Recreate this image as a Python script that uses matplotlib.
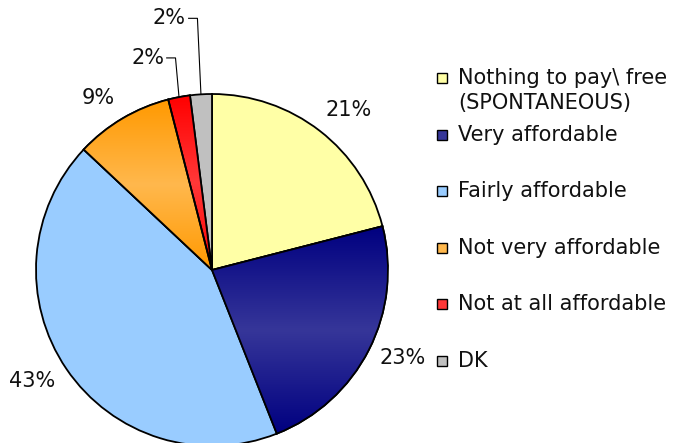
import numpy as np
import matplotlib
matplotlib.use("Agg")
import matplotlib.pyplot as plt
from matplotlib.colors import to_rgb
from matplotlib.patches import Rectangle, PathPatch

labels = ["Nothing to pay\\ free\n(SPONTANEOUS)", "Very affordable", "Fairly affordable",
          "Not very affordable", "Not at all affordable", "DK"]
values = [21, 23, 43, 9, 2, 2]
pct_text = ["21%", "23%", "43%", "9%", "2%", "2%"]

# edge colour / middle colour of the vertical gradient in each slice
edge_cols = ["#FFFFA6", "#000080", "#99CCFF", "#FF9900", "#FF0000", "#C0C0C0"]
mid_cols = ["#FFFFA6", "#363699", "#99CCFF", "#FFB84D", "#FF3838", "#C0C0C0"]

W, H = 681, 443
fig = plt.figure(figsize=(W / 100, H / 100), dpi=100)
R = 176
cx, cy = 212, 270
ax = fig.add_axes([(cx - R) / W, (H - cy - R) / H, 2 * R / W, 2 * R / H])

wedges, _ = ax.pie(values, colors=mid_cols, startangle=90, counterclock=False,
                   radius=1, wedgeprops=dict(edgecolor="black", linewidth=1.3))

# gradient fill clipped to each wedge
for w, c0, c1 in zip(wedges, edge_cols, mid_cols):
    if c0 == c1:
        continue
    path = w.get_patch_transform().transform_path(w.get_path())
    ext = path.get_extents()
    t = np.linspace(0, 1, 200)
    k = 1 - np.abs(2 * t - 1)
    a, b = np.array(to_rgb(c0)), np.array(to_rgb(c1))
    img = (a[None, :] * (1 - k[:, None]) + b[None, :] * k[:, None])[:, None, :]
    im = ax.imshow(img, extent=[ext.x0, ext.x1, ext.y0, ext.y1], origin="lower",
                   aspect="auto", zorder=w.get_zorder() + 0.1)
    im.set_clip_path(w)
    ax.add_patch(PathPatch(path, fill=False, edgecolor="black", linewidth=1.3,
                           zorder=w.get_zorder() + 0.2))

ax.set_xlim(-1, 1)
ax.set_ylim(-1, 1)
ax.set_aspect("equal")
ax.axis("off")

# percentage labels
fs = 15
label_r = [1.196, 1.195, 1.2, 1.173]
label_shift = [-2.8, 2.3, -2.6, 3.0]
leader_y = [None, None, None, None, 1.205, 1.43]
for i, w in enumerate(wedges):
    mid = (w.theta1 + w.theta2) / 2
    ang = np.deg2rad(mid)
    ex, ey = np.cos(ang), np.sin(ang)
    if leader_y[i] is None:
        r = label_r[i]
        a2 = np.deg2rad(mid + label_shift[i])
        ax.text(r * np.cos(a2), r * np.sin(a2), pct_text[i], ha="center", va="center",
                fontsize=fs, color="#111111", clip_on=False)
    else:
        ly = leader_y[i]
        ax.plot([ex, ex - 0.02, ex - 0.07], [ey, ly, ly], color="black",
                linewidth=0.8, clip_on=False)
        ax.text(ex - 0.085, ly, pct_text[i], ha="right", va="center",
                fontsize=fs, color="#111111", clip_on=False)

# legend drawn by hand
lx = 442
ly0 = 78
dy = 56.6
sq = 10
for i, (lab, c) in enumerate(zip(labels, mid_cols)):
    y = ly0 + dy * i
    fig.patches.append(Rectangle(((lx - sq / 2) / W, (H - y - sq / 2) / H), sq / W, sq / H,
                                 transform=fig.transFigure, facecolor=c,
                                 edgecolor="black", linewidth=1.0))
    fig.text((lx + 16) / W, (H - y + 10) / H, lab, ha="left", va="top",
             fontsize=fs, color="#111111", linespacing=1.3)

fig.savefig("out.png", dpi=100)
